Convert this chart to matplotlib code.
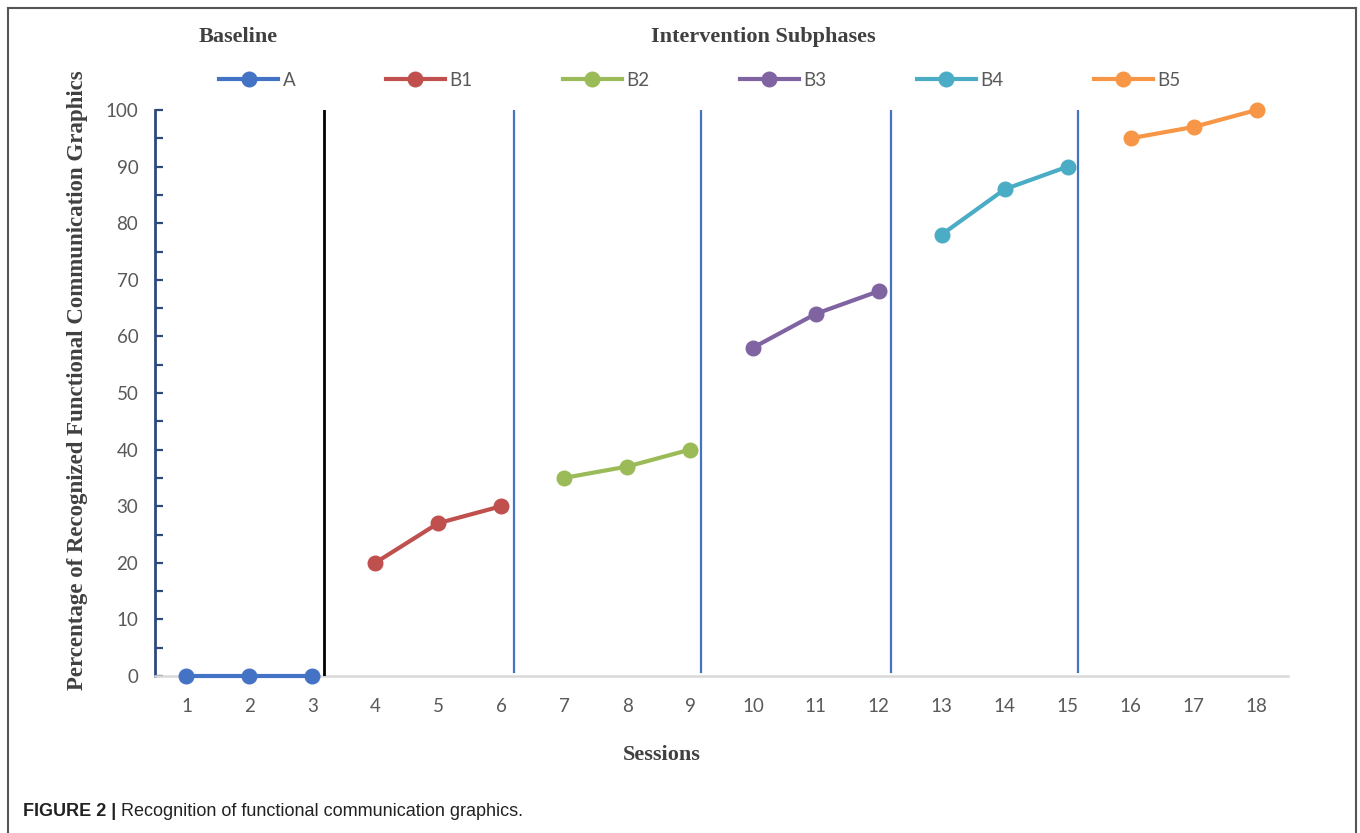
import matplotlib
matplotlib.use("Agg")
import matplotlib.pyplot as plt
from matplotlib.lines import Line2D
from matplotlib.ticker import MultipleLocator

# ---- data ----
phase_names = ["A", "B1", "B2", "B3", "B4", "B5"]
phase_sessions = [[1, 2, 3], [4, 5, 6], [7, 8, 9], [10, 11, 12], [13, 14, 15], [16, 17, 18]]
phase_values = [[0, 0, 0], [20, 27, 30], [35, 37, 40], [58, 64, 68], [78, 86, 90], [95, 97, 100]]
phase_colors = ["#4472C4", "#C0504D", "#9BBB59", "#8064A2", "#4BACC6", "#F79646"]
phase_change_lines = [3.18, 6.2, 9.18, 12.2, 15.17]
session_ticks = list(range(1, 19))
y_ticks = list(range(0, 101, 10))

W, H = 1360, 833
fig = plt.figure(figsize=(W / 100, H / 100), dpi=100)
fig.patch.set_facecolor("white")

ax = fig.add_axes([155 / W, 1 - 676 / H, (1288 - 155) / W, (676 - 110) / H])
ax.set_xlim(0.5, 18.5)
ax.set_ylim(0, 100)

sans = ["Lato", "DejaVu Sans"]
serif = ["Liberation Serif", "DejaVu Serif"]

for name, xs, ys, c in zip(phase_names, phase_sessions, phase_values, phase_colors):
    ax.plot(xs, ys, color=c, lw=3, marker="o", ms=10.5, label=name, clip_on=False, zorder=4)

for i, xv in enumerate(phase_change_lines):
    if i == 0:
        ax.plot([xv, xv], [0, 100], color="black", lw=2.0, zorder=3)
    else:
        ax.plot([xv, xv], [0.7, 100.3], color="#4472C4", lw=1.6, zorder=3)

# spines
for s in ["top", "right"]:
    ax.spines[s].set_visible(False)
ax.spines["left"].set_color("#2E4A7D")
ax.spines["left"].set_linewidth(2.0)
ax.spines["bottom"].set_color("#D9D9D9")
ax.spines["bottom"].set_linewidth(1.8)
ax.spines["left"].set_zorder(2)

ax.set_yticks(y_ticks)
ax.yaxis.set_minor_locator(MultipleLocator(5))
ax.tick_params(axis="y", which="both", direction="in", length=6, width=1.6,
               color="#2E4A7D", pad=12, labelsize=13.5, labelcolor="#595959")
ax.set_xticks(session_ticks)
ax.tick_params(axis="x", which="both", length=0, pad=16, labelsize=13.5, labelcolor="#595959")
for lab in ax.get_xticklabels() + ax.get_yticklabels():
    lab.set_family(sans)

ax.set_ylabel("Percentage of Recognized Functional Communication Graphics",
              family=serif, fontweight="bold", fontsize=16.5, color="#404040")
ax.yaxis.set_label_coords((78 - 155) / (1288 - 155), (676 - 380) / (676 - 110))
ax.yaxis.label.set_va("center")
ax.set_xlabel("Sessions", family=serif, fontweight="bold", fontsize=16, color="#404040")
ax.xaxis.set_label_coords((662 - 155) / (1288 - 155), -(755 - 676) / (676 - 110))
ax.xaxis.label.set_va("center")

fig.text(238 / W, 1 - 37 / H, "Baseline", family=serif, fontweight="bold",
         fontsize=16, color="#404040", ha="center", va="center")
fig.text(763 / W, 1 - 37 / H, "Intervention Subphases", family=serif, fontweight="bold",
         fontsize=16, color="#404040", ha="center", va="center")

leg = fig.legend(*ax.get_legend_handles_labels(), loc="center", ncol=6,
                 bbox_to_anchor=(700 / W, 1 - 80 / H), frameon=False,
                 prop={"family": sans, "size": 13.5}, handlelength=3.15,
                 handletextpad=0.25, columnspacing=4.8, labelcolor="#595959")

# caption
cap_fam = ["Liberation Sans", "DejaVu Sans"]
t1 = fig.text(23 / W, 1 - 812 / H, "FIGURE 2 |", family=cap_fam,
              fontweight="bold", fontsize=13, color="#222222", ha="left", va="center")
fig.canvas.draw()
bb = t1.get_window_extent()
fig.text((bb.x1 + 5) / W, 1 - 812 / H, "Recognition of functional communication graphics.",
         family=cap_fam, fontsize=13, color="#222222", ha="left", va="center")

# outer frame
frame_c = "#555555"
fig.add_artist(Line2D([8 / W, 8 / W], [0, 1 - 8 / H], color=frame_c, lw=1.5))
fig.add_artist(Line2D([8 / W, 1356 / W], [1 - 8 / H, 1 - 8 / H], color=frame_c, lw=1.5))
fig.add_artist(Line2D([1356 / W, 1356 / W], [0, 1 - 8 / H], color=frame_c, lw=1.5))

fig.savefig("out.png", dpi=100)
